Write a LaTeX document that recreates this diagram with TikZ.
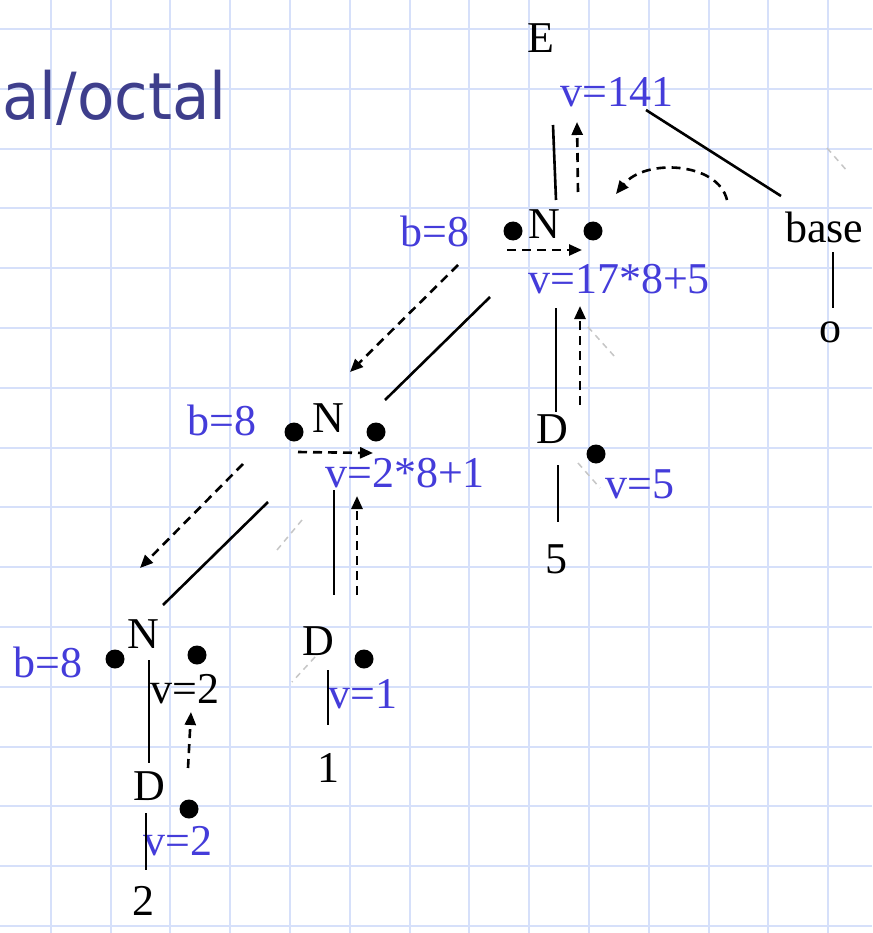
\documentclass[tikz,border=0pt]{standalone}
\usepackage{fontspec}
\setmainfont{Liberation Serif}
\newfontfamily\titlefont{DejaVu Sans}
\usetikzlibrary{arrows.meta}
\definecolor{gridc}{RGB}{214,224,250}
\definecolor{valc}{RGB}{68,60,218}
\definecolor{titc}{RGB}{62,62,140}
\tikzset{
  lbl/.style={anchor=base west,inner sep=0pt,font=\fontsize{44}{48}\selectfont},
  val/.style={lbl,text=valc},
  dotn/.style={circle,fill=black,inner sep=0pt,minimum size=19pt},
  edge/.style={line width=2.6pt},
  flow/.style={line width=2.6pt,dash pattern=on 9pt off 6pt,-{Triangle[length=13pt,width=11pt]}},
  ghost/.style={line width=1.5pt,gray!45,dash pattern=on 6pt off 5pt}
}
\begin{document}
\begin{tikzpicture}[x=1pt,y=-1pt]
\useasboundingbox (0,0) rectangle (872,933);
\fill[white] (0,0) rectangle (872,933);
% grid
\foreach \i in {0,...,13} \draw[gridc,line width=2pt] ({50.7+59.8*\i},0) -- ({50.7+59.8*\i},933);
\foreach \j in {0,...,15} \draw[gridc,line width=2pt] (0,{29+59.8*\j}) -- (872,{29+59.8*\j});
% title
\node[anchor=base west,inner sep=0pt,text=titc,font=\titlefont\fontsize{65}{70}\selectfont,xscale=0.94] (title) at (2,120) {al/octal};
% labels
\node[lbl] (E) at (527,53) {E};
\node[val] (v141) at (560,107) {v=141};
\node[lbl] (topN) at (528,238) {N};
\node[val] (topb) at (400,247) {b=8};
\node[val] (topv) at (528,293) {v=17*8+5};
\node[lbl] (base) at (785,243) {base};
\node[lbl] (o) at (819,342) {o};
\node[lbl] (midN) at (312,432) {N};
\node[val] (midb) at (187,435) {b=8};
\node[val] (midv) at (325,487) {v=2*8+1};
\node[lbl] (rD) at (536,443) {D};
\node[val] (rv) at (605,498) {v=5};
\node[lbl] (r5) at (545,573) {5};
\node[lbl] (blN) at (127,648) {N};
\node[val] (blb) at (13,677) {b=8};
\node[lbl] (blv) at (150,703) {v=2};
\node[lbl] (blD) at (133,800) {D};
\node[val] (blv2) at (143,855) {v=2};
\node[lbl] (bl2) at (132,915) {2};
\node[lbl] (mD) at (302,655) {D};
\node[val] (mv) at (328,708) {v=1};
\node[lbl] (m1) at (317,782) {1};
% dots
\node[dotn] (d1) at (513,231) {};
\node[dotn] (d2) at (593,231) {};
\node[dotn] (d3) at (294,432) {};
\node[dotn] (d4) at (376,432) {};
\node[dotn] (d5) at (115,659) {};
\node[dotn] (d6) at (197,655) {};
\node[dotn] (d7) at (596,454) {};
\node[dotn] (d8) at (364,659) {};
\node[dotn] (d9) at (189,809) {};
% coordinates for connectors
\coordinate (a1) at (553,125); \coordinate (a2) at (556,200);
\coordinate (b1) at (646,110); \coordinate (b2) at (781,196);
\coordinate (c1) at (833,252); \coordinate (c2) at (833,308);
\coordinate (e1) at (490,297); \coordinate (e2) at (385,400);
\coordinate (f1) at (556,308); \coordinate (f2) at (556,412);
\coordinate (g1) at (558,465); \coordinate (g2) at (558,522);
\coordinate (h1) at (334,490); \coordinate (h2) at (334,595);
\coordinate (i1) at (268,502); \coordinate (i2) at (163,605);
\coordinate (j1) at (149,660); \coordinate (j2) at (149,763);
\coordinate (k1) at (146,813); \coordinate (k2) at (146,870);
\coordinate (l1) at (328,670); \coordinate (l2) at (328,725);
% solid tree edges
\draw[edge] (a1) -- (a2);
\draw[edge] (b1) -- (b2);
\draw[edge] (c1) -- (c2);
\draw[edge] (e1) -- (e2);
\draw[edge] (f1) -- (f2);
\draw[edge] (g1) -- (g2);
\draw[edge] (h1) -- (h2);
\draw[edge] (i1) -- (i2);
\draw[edge] (j1) -- (j2);
\draw[edge] (k1) -- (k2);
\draw[edge] (l1) -- (l2);
% dashed flow arrows
\coordinate (p1) at (578,192); \coordinate (p2) at (577,122);
\coordinate (q1) at (507,250); \coordinate (q2) at (582,250);
\coordinate (r1) at (727,200); \coordinate (r2) at (616,194);
\coordinate (s1) at (458,265); \coordinate (s2) at (350,372);
\coordinate (t1) at (580,405); \coordinate (t2) at (580,306);
\coordinate (u1) at (298,452); \coordinate (u2) at (373,453);
\coordinate (w1) at (357,595); \coordinate (w2) at (357,496);
\coordinate (x1) at (243,464); \coordinate (x2) at (140,568);
\coordinate (y1) at (188,768); \coordinate (y2) at (191,712);
\draw[flow] (p1) -- (p2);
\draw[flow] (q1) -- (q2);
\draw[flow] (r1) .. controls (718,162) and (645,158) .. (r2);
\draw[flow] (s1) -- (s2);
\draw[flow] (t1) -- (t2);
\draw[flow] (u1) -- (u2);
\draw[flow] (w1) -- (w2);
\draw[flow] (x1) -- (x2);
\draw[flow] (y1) -- (y2);
% faint grey dashes
\draw[ghost] (827,148) -- (848,172);
\draw[ghost] (588,327) -- (615,357);
\draw[ghost] (578,463) -- (600,488);
\draw[ghost] (302,520) -- (277,550);
\draw[ghost] (315,657) -- (292,682);
\end{tikzpicture}
\end{document}
